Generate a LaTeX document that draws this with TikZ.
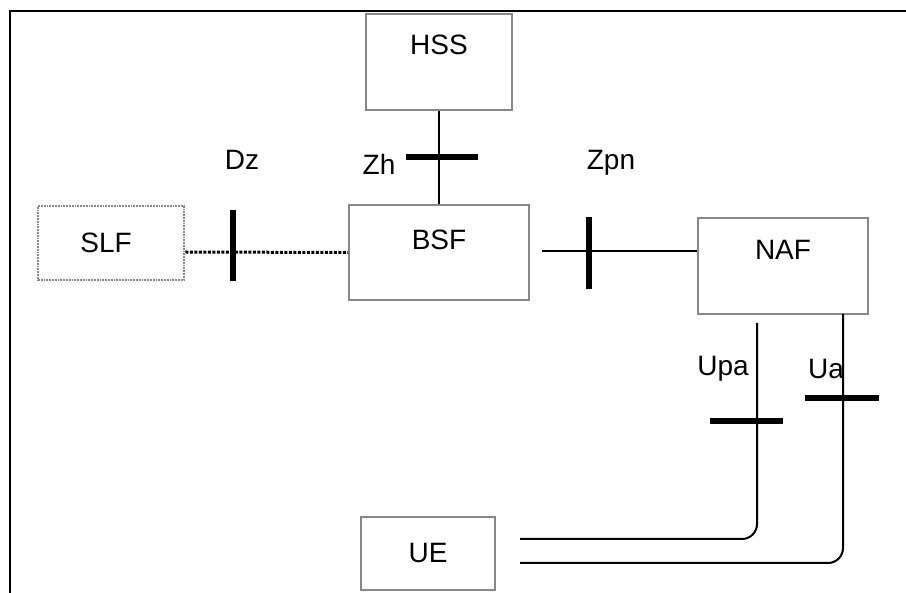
\documentclass[tikz,border=0pt]{standalone}
\usepackage{fontspec}
\setmainfont{Liberation Sans}
\begin{document}
\begin{tikzpicture}[x=1pt,y=-1pt,
  box/.style={draw=boxgray, line width=1.6pt, inner sep=0pt, font=\fontsize{28}{33}\selectfont},
  dotbox/.style={box, dash pattern=on 1.8pt off 1pt, line width=2.6pt},
  conn/.style={line width=2pt, black},
  dotconn/.style={line width=3pt, black, dash pattern=on 3pt off 1.5pt},
  bar/.style={line width=6.5pt, black},
  lab/.style={font=\fontsize{28}{33}\selectfont, inner sep=0pt}]
\definecolor{boxgray}{HTML}{888888}
\useasboundingbox (0,0) rectangle (906,593);
% frame
\draw[line width=2.4pt] (10,593) -- (10,11) -- (906,11);
% boxes
\node[box, minimum width=146pt, text height=41pt, text depth=55pt] (hss) at (439,62) {HSS};
\node[box, minimum width=180pt, text height=45pt, text depth=50pt] (bsf) at (439,252.5) {BSF};
\node[box, minimum width=170pt, text height=42pt, text depth=54pt] (naf) at (783,266) {NAF};
\node[dotbox, minimum width=146pt, text height=47pt, text depth=27pt] (slf) at (111,243) {\hspace*{-10pt}SLF};
\node[box, minimum width=134pt, text height=46pt, text depth=27pt] (ue) at (428,553.5) {UE};
% labels
\node[lab] (dz) at (242,160) {Dz};
\node[lab] (zh) at (379,164) {Zh};
\node[lab] (zpn) at (611,163) {Zpn};
\node[lab] (upa) at (723,369) {Upa};
\node[lab] (ua) at (826,369) {Ua};
% Zh
\draw[conn] (hss.south) -- (bsf.north);
\draw[bar] (406,157) -- (478,157);
% Dz
\draw[dotconn] ([yshift=-9pt]slf.east) -- (bsf.west);
\draw[bar] (233,210) -- (233,281);
% Zpn
\coordinate (zpnstart) at (542,251);
\draw[conn] (zpnstart) -- (naf.west |- zpnstart);
\draw[bar] (589,217) -- (589,289);
% Upa
\coordinate (upatop) at (757,323);
\coordinate (upaend) at (520,539);
\draw[conn, rounded corners=15pt] (upatop) -- (upatop |- upaend) -- (upaend);
\draw[bar] (710,421) -- (783,421);
% Ua
\coordinate (uatop) at (843,314);
\coordinate (uaend) at (520,563);
\draw[conn, rounded corners=15pt] (uatop) -- (uatop |- uaend) -- (uaend);
\draw[bar] (805,398) -- (879,398);
\end{tikzpicture}
\end{document}
